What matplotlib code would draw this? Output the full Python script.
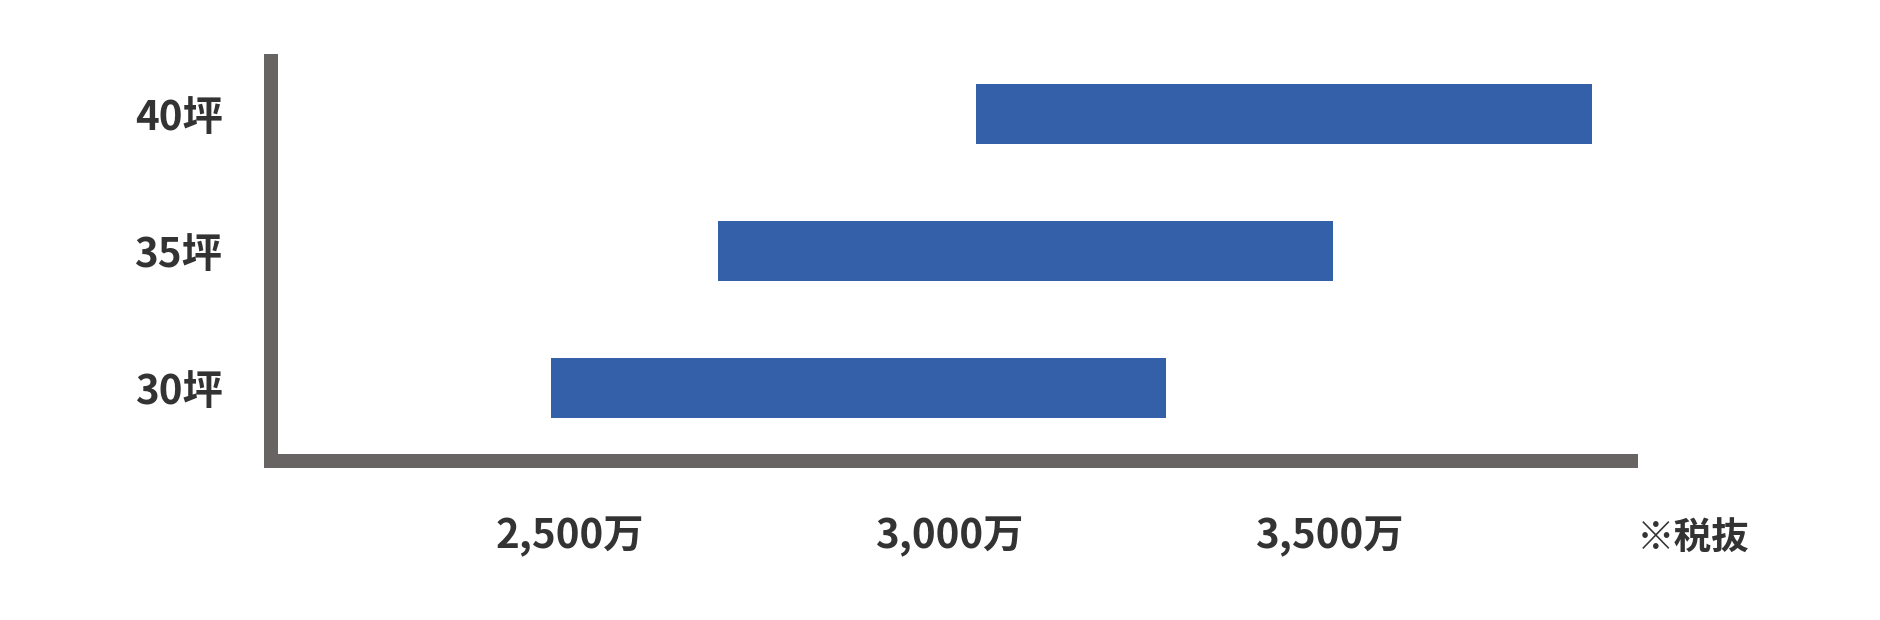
import matplotlib
matplotlib.use("Agg")
import matplotlib.pyplot as plt

plt.rcParams['font.family'] = ['Noto Sans CJK JP', 'DejaVu Sans']

categories = ["30坪", "35坪", "40坪"]
range_start = [2475, 2695, 3035]
range_end = [3285, 3505, 3845]
xtick_values = [2500, 3000, 3500]
xtick_labels = ["2,500万", "3,000万", "3,500万"]
note = "※税抜"

BAR_COLOR = "#3360A9"
AXIS_COLOR = "#696464"
TEXT_COLOR = "#333333"

W, H = 1880, 620
fig = plt.figure(figsize=(W / 100, H / 100), dpi=100)
left, right, top, bottom = 271, 1631, 61, 461
ax = fig.add_axes([left / W, (H - bottom) / H, (right - left) / W, (bottom - top) / H])

ypos = list(range(len(categories)))
widths = [e - s for s, e in zip(range_start, range_end)]
ax.barh(ypos, widths, left=range_start, height=60 / 137, color=BAR_COLOR, edgecolor="none")

ax.set_xlim(2107.1, 3896.6)
ax.set_ylim(-0.5328, 2.3869)

for side in ("top", "right"):
    ax.spines[side].set_visible(False)
for side in ("left", "bottom"):
    sp = ax.spines[side]
    sp.set_color(AXIS_COLOR)
    sp.set_linewidth(14 * 72 / 100)
    sp.set_capstyle("projecting")

FS = 29
ax.set_yticks(ypos)
ax.set_yticklabels(categories)
ax.set_xticks(xtick_values)
ax.set_xticklabels(xtick_labels)
ax.tick_params(axis="both", length=0, colors=TEXT_COLOR, labelsize=FS)
ax.tick_params(axis="y", pad=35)
ax.tick_params(axis="x", pad=40)
for lab in ax.get_xticklabels() + ax.get_yticklabels():
    lab.set_fontweight("bold")
    lab.set_color(TEXT_COLOR)

fig.text(1693 / W, 1 - 538 / H, note, ha="center", va="center",
         fontsize=27, fontweight="bold", color=TEXT_COLOR)

fig.savefig("out.png", dpi=100, facecolor="white")
